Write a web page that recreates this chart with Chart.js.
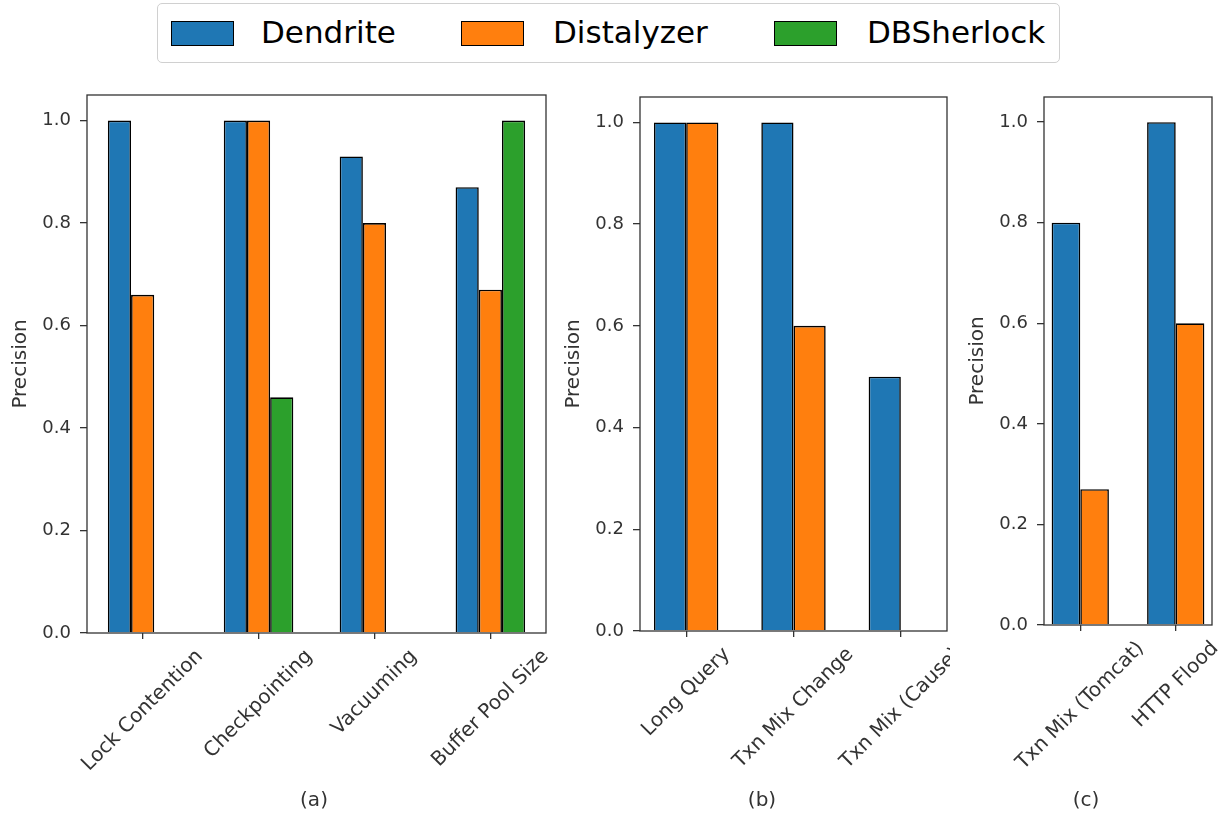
<!DOCTYPE html>
<html><head><meta charset="utf-8">
<script src="https://cdn.jsdelivr.net/npm/chart.js@4/dist/chart.umd.min.js"></script>
<style>
body{margin:0;background:#fff;width:1223px;height:819px;overflow:hidden;position:relative;font-family:'DejaVu Sans';}
canvas{position:absolute;top:0;}
#legend{position:absolute;left:157px;top:3px;width:901px;height:58px;border:1px solid #d0d0d0;border-radius:5px;background:#fff;}
.sw{position:absolute;top:17px;width:61px;height:23px;border:1.5px solid #000;}
.lt{position:absolute;top:10px;font-size:31px;line-height:36px;color:#000;white-space:nowrap;}
</style></head><body>
<div id="legend"></div>
<canvas id="ca"></canvas>
<canvas id="cb"></canvas>
<canvas id="cc"></canvas>
<script>
// ---- data ----
const seriesNames = ['Dendrite', 'Distalyzer', 'DBSherlock'];
const seriesColors = ['#1f77b4', '#ff7f0e', '#2ca02c'];

const catsA = ['Lock Contention', 'Checkpointing', 'Vacuuming', 'Buffer Pool Size'];
const dendriteA = [1.0, 1.0, 0.93, 0.87];
const distalyzerA = [0.66, 1.0, 0.80, 0.67];
const dbsherlockA = [null, 0.46, null, 1.0];

const catsB = ['Long Query', 'Txn Mix Change', 'Txn Mix (Cause)'];
const dendriteB = [1.0, 1.0, 0.5];
const distalyzerB = [1.0, 0.6, null];

const catsC = ['Txn Mix (Tomcat)', 'HTTP Flood'];
const dendriteC = [0.8, 1.0];
const distalyzerC = [0.27, 0.6];

const yTicks = [0.0, 0.2, 0.4, 0.6, 0.8, 1.0];
const panelLabels = ['(a)', '(b)', '(c)'];
const yTitle = 'Precision';

// ---- legend (HTML) ----
const legend = document.getElementById('legend');
const swX = [13, 303, 616], txX = [103, 395, 709];
seriesNames.forEach((n, k) => {
  const s = document.createElement('div'); s.className = 'sw';
  s.style.left = swX[k] + 'px'; s.style.background = seriesColors[k];
  legend.appendChild(s);
  const t = document.createElement('div'); t.className = 'lt';
  t.style.left = txX[k] + 'px'; t.textContent = n;
  legend.appendChild(t);
});

Chart.defaults.font.family = "'DejaVu Sans'";
Chart.defaults.color = '#333';

const TXT = '#333';
const FS_Y = 18;     // y tick labels
const FS_X = 20;     // category labels
const FS_T = 20;     // axis title
const FS_P = 20;     // panel label

const framePlugin = {
  id: 'frame',
  afterDraw(chart, args, opts) {
    const {ctx, chartArea: a, scales} = chart;
    ctx.save();
    ctx.strokeStyle = '#333'; ctx.lineWidth = 1.3;
    ctx.strokeRect(a.left, a.top, a.right - a.left, a.bottom - a.top);
    ctx.font = FS_X + "px 'DejaVu Sans'";
    ctx.fillStyle = TXT;
    const H = FS_X * 1.17;
    opts.cats.forEach((c, i) => {
      const x = scales.x.getPixelForValue(i);
      const L = ctx.measureText(c).width;
      const half = (L + H) / (2 * Math.SQRT2);
      const cy = a.bottom + 6 + 6 + half;
      ctx.save();
      ctx.translate(x, cy); ctx.rotate(-Math.PI / 4);
      ctx.textAlign = 'center'; ctx.textBaseline = 'middle';
      ctx.fillText(c, 0, 0);
      ctx.restore();
    });
    ctx.font = FS_P + "px 'DejaVu Sans'";
    ctx.textAlign = 'center'; ctx.textBaseline = 'middle';
    ctx.fillText(opts.panel, opts.panelX, opts.panelY);
    ctx.restore();
  }
};

function makeChart(id, p) {
  const cv = document.getElementById(id);
  cv.width = p.width; cv.height = 819;
  cv.style.left = p.left + 'px';
  cv.style.width = p.width + 'px'; cv.style.height = '819px';
  const n = p.cats.length;
  const span = (n - 1) + 0.6;
  const xmin = -0.3 - 0.05 * span, xmax = (n - 1) + 0.3 + 0.05 * span;
  const datasets = p.series.map((d, k) => ({
    label: seriesNames[k],
    data: p.cats.map((c, i) => ({x: i, y: d[i]})),
    backgroundColor: seriesColors[k],
    borderColor: '#000',
    borderWidth: 1.6,
    categoryPercentage: 0.6,
    barPercentage: 1.0
  }));
  return new Chart(cv, {
    type: 'bar',
    data: {datasets},
    options: {
      responsive: false, animation: false, devicePixelRatio: 1,
      layout: {padding: {top: p.areaTop, left: 0, right: p.width - (p.areaRight - p.left), bottom: 0}},
      plugins: {
        legend: {display: false}, tooltip: {enabled: false},
        frame: {cats: p.cats, panel: p.panel, panelX: p.panelX - p.left, panelY: 801}
      },
      scales: {
        x: {
          type: 'linear', min: xmin, max: xmax, offset: false,
          afterBuildTicks: s => { s.ticks = p.cats.map((c, i) => ({value: i})); },
          ticks: {callback: () => '', autoSkip: false, maxRotation: 0},
          grid: {offset: false, drawOnChartArea: false, drawTicks: true, tickLength: 6, color: '#333', lineWidth: 1.3},
          border: {display: false},
          afterFit: s => { s.height = 819 - p.areaBottom; }
        },
        y: {
          min: 0, max: 1.05,
          afterBuildTicks: s => { s.ticks = yTicks.map(v => ({value: v})); },
          ticks: {callback: v => Number(v).toFixed(1), color: TXT, font: {size: FS_Y}, padding: 9},
          grid: {offset: false, drawOnChartArea: false, drawTicks: true, tickLength: 7, color: '#333', lineWidth: 1.3},
          border: {display: false},
          title: {display: true, text: yTitle, color: TXT, font: {size: FS_T}, padding: {top: 12, bottom: 0}},
          afterFit: s => { s.width = 90; }
        }
      }
    },
    plugins: [framePlugin]
  });
}

makeChart('ca', {left: -3, width: 563, areaTop: 95, areaBottom: 633, areaRight: 546,
  cats: catsA, series: [dendriteA, distalyzerA, dbsherlockA], panel: panelLabels[0], panelX: 314});
makeChart('cb', {left: 550, width: 400, areaTop: 97, areaBottom: 631, areaRight: 947,
  cats: catsB, series: [dendriteB, distalyzerB], panel: panelLabels[1], panelX: 762});
makeChart('cc', {left: 954, width: 269, areaTop: 97, areaBottom: 625, areaRight: 1212,
  cats: catsC, series: [dendriteC, distalyzerC], panel: panelLabels[2], panelX: 1086});
</script>
</body></html>
